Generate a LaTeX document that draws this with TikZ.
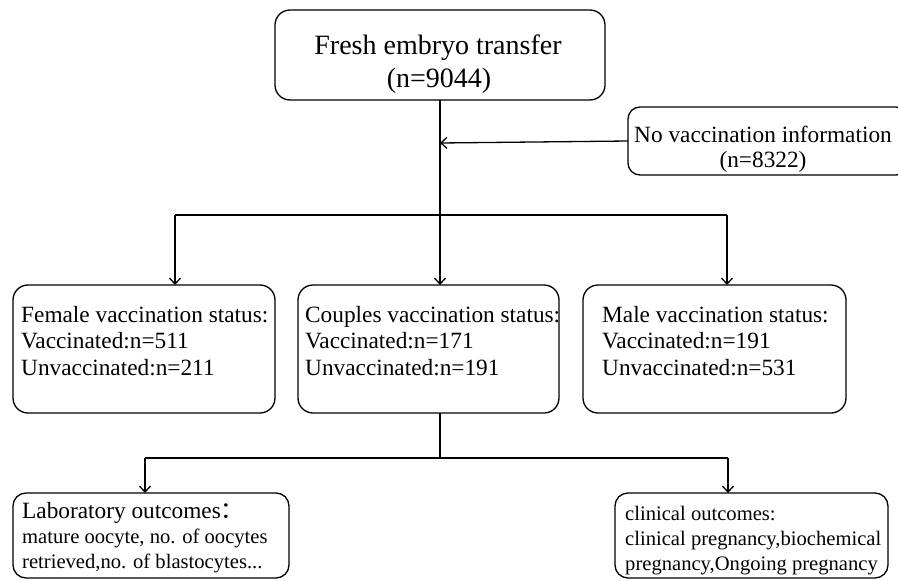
\documentclass[tikz,border=0pt]{standalone}
\usepackage{fontspec}
\setmainfont{Liberation Serif}
\newfontfamily\cjkfont{Noto Sans CJK SC}
\usetikzlibrary{arrows.meta}
\begin{document}
\begin{tikzpicture}[x=1pt,y=-1pt,
  box/.style={draw, line width=1.3pt, rounded corners=15pt, anchor=north west, inner sep=0pt, outer sep=0pt},
  conn/.style={line width=1.3pt},
  arr/.style={conn,-{Straight Barb[length=6pt,width=11pt,line width=1.3pt]}},
  txt/.style={inner sep=0pt, anchor=base west},
  ctxt/.style={inner sep=0pt, anchor=base},
  big/.style={font=\fontsize{28}{32}\selectfont},
  mid/.style={font=\fontsize{23.3}{27}\selectfont},
  sml/.style={font=\fontsize{20.6}{25}\selectfont}]
\useasboundingbox (0,0) rectangle (898,581);
\clip (0,0) rectangle (898,581);
% boxes
\node[box, minimum width=330pt, minimum height=90pt] (top) at (275,10) {};
\node[box, rounded corners=12pt, minimum width=280pt, minimum height=68pt] (noinfo) at (628,107) {};
\node[box, minimum width=262pt, minimum height=128pt] (female) at (13,285) {};
\node[box, minimum width=261pt, minimum height=128pt] (couples) at (298,285) {};
\node[box, minimum width=263pt, minimum height=128pt] (male) at (583,285) {};
\node[box, rounded corners=13pt, minimum width=276pt, minimum height=85pt] (lab) at (13,493) {};
\node[box, rounded corners=13pt, minimum width=273pt, minimum height=85pt] (clin) at (615,493) {};
% texts
\node[ctxt, big] (t1) at (438,54) {Fresh embryo transfer};
\node[ctxt, big] (t2) at (439,87) {(n=9044)};
\node[ctxt, mid] (n1) at (763,142) {No vaccination information};
\node[ctxt, mid] (n2) at (763,167) {(n=8322)};
\node[txt, mid] (f1) at (21,322) {Female vaccination status:};
\node[txt, mid] (f2) at (21,348) {Vaccinated:n=511};
\node[txt, mid] (f3) at (21,375) {Unvaccinated:n=211};
\node[txt, mid] (c1) at (305,322) {Couples vaccination status:};
\node[txt, mid] (c2) at (305,348) {Vaccinated:n=171};
\node[txt, mid] (c3) at (305,375) {Unvaccinated:n=191};
\node[txt, mid] (m1) at (602,322) {Male vaccination status:};
\node[txt, mid] (m2) at (602,348) {Vaccinated:n=191};
\node[txt, mid] (m3) at (602,375) {Unvaccinated:n=531};
\node[txt, mid] (l1) at (22,518) {Laboratory outcomes{\cjkfont ：}};
\node[txt, sml] (l2) at (22,543) {mature oocyte, no. of oocytes};
\node[txt, sml] (l3) at (22,568) {retrieved,no. of blastocytes...};
\node[txt, sml] (k1) at (625,520) {clinical outcomes:};
\node[txt, sml] (k2) at (625,545) {clinical pregnancy,biochemical};
\node[txt, sml] (k3) at (625,570) {pregnancy,Ongoing pregnancy};
% connectors
\coordinate (j) at (440,215);
\coordinate (jl) at (175,215);
\coordinate (jr) at (727,215);
\coordinate (m) at (440,143);
\draw[conn] (j |- top.south) -- (j);
\draw[arr] (noinfo.west) -- (m);
\draw[conn] (jl) -- (jr);
\draw[arr] (jl) -- (jl |- female.north);
\draw[arr] (j) -- (j |- couples.north);
\draw[arr] (jr) -- (jr |- male.north);
\coordinate (b) at (440,458);
\coordinate (bl) at (145,458);
\coordinate (br) at (728,458);
\draw[conn] (b |- couples.south) -- (b);
\draw[conn] (bl) -- (br);
\draw[arr] (bl) -- (bl |- lab.north);
\draw[arr] (br) -- (br |- clin.north);
\end{tikzpicture}
\end{document}
